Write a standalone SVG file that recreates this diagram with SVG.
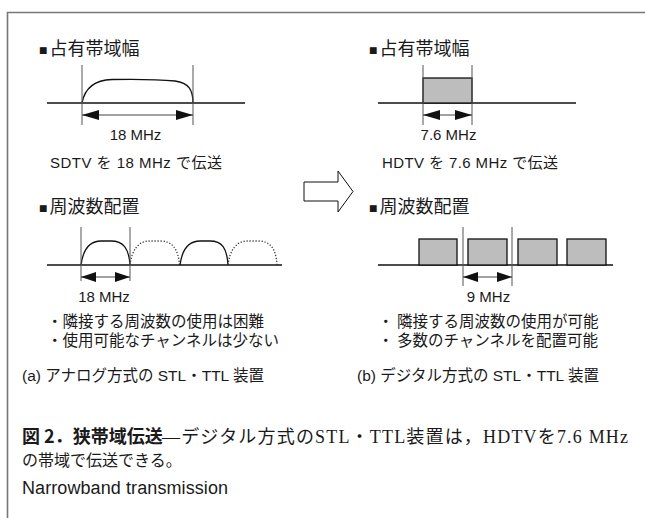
<svg xmlns="http://www.w3.org/2000/svg" width="645" height="518" viewBox="0 0 645 518">
<style>
.sans{font-family:"Liberation Sans","Noto Sans CJK JP",sans-serif;fill:#1a1a1a}
.jp{font-family:"Noto Sans CJK JP",sans-serif;fill:#1a1a1a}
.serif{font-family:"Liberation Serif","Noto Sans CJK JP",serif;fill:#1a1a1a}
.base{stroke:#111;stroke-width:1.3;fill:none}
.tick{stroke:#555;stroke-width:1;fill:none}
.dim{stroke:#444;stroke-width:1;fill:none}
.hump{stroke:#111;stroke-width:1.3;fill:none}
.dot{stroke:#333;stroke-width:1.3;fill:none;stroke-dasharray:1.2 1.8}
.blk{fill:#bdbdbd;stroke:#111;stroke-width:1.3}
.sq{font-size:8.5px}
</style>
<defs>
<marker id="ah" markerUnits="userSpaceOnUse" markerWidth="17" markerHeight="10" refX="17" refY="5" orient="auto-start-reverse">
<path d="M0,0 L17,5 L0,10 Z" fill="#111"/>
</marker>
<marker id="ahs" markerUnits="userSpaceOnUse" markerWidth="15" markerHeight="10" refX="15" refY="5" orient="auto-start-reverse">
<path d="M0,0 L15,5 L0,10 Z" fill="#111"/>
</marker>
</defs>
<rect width="645" height="518" fill="#fff"/>
<path d="M7.5,518 V12.5 H645" fill="none" stroke="#777" stroke-width="1.6"/>

<g id="analog-bandwidth">
<text class="jp" x="39" y="55" font-size="18"><tspan class="sq" dy="-1">■</tspan><tspan dx="2" dy="1">占有帯域幅</tspan></text>
<line class="base" x1="47" y1="103" x2="245" y2="103"/>
<path class="hump" d="M82,103 C85,87 95,80 112,79.5 C140,79 160,79.5 175,81 C189,83 193,90 193,103"/>
<line class="tick" x1="82" y1="65" x2="82" y2="125"/>
<line class="tick" x1="193" y1="65" x2="193" y2="125"/>
<text class="sans" x="135.5" y="140" font-size="15" text-anchor="middle">18 MHz</text>
<text class="sans" x="50" y="168" font-size="15" textLength="172">SDTV を 18 MHz で伝送</text>
</g>

<g id="digital-bandwidth">
<text class="jp" x="369" y="55" font-size="18"><tspan class="sq" dy="-1">■</tspan><tspan dx="2" dy="1">占有帯域幅</tspan></text>
<line class="base" x1="378" y1="103" x2="576" y2="103"/>
<rect class="blk" x="423" y="78" width="49" height="25"/>
<line class="tick" x1="423" y1="65" x2="423" y2="125"/>
<line class="tick" x1="472" y1="65" x2="472" y2="125"/>
<text class="sans" x="448.5" y="140" font-size="15" text-anchor="middle">7.6 MHz</text>
<text class="sans" x="382" y="168" font-size="15" textLength="176">HDTV を 7.6 MHz で伝送</text>
</g>

<g id="transition-arrow">
<path d="M304,182 H338 V171 L353,191.5 L338,212 V201 H304 Z" fill="#fff" stroke="#111" stroke-width="1"/>
</g>

<g id="analog-allocation">
<text class="jp" x="39" y="213" font-size="18"><tspan class="sq" dy="-1">■</tspan><tspan dx="2" dy="1">周波数配置</tspan></text>
<line class="base" x1="47" y1="265" x2="282" y2="265"/>
<path class="hump" d="M81,265 C83,250 89,241 101,241 H111 C123,241 129,248 130,265"/>
<path class="dot" d="M130,265 C132,250 138,241 150,241 H160 C172,241 178,248 179.5,265"/>
<path class="hump" d="M180,265 C182,250 188,241 200,241 H210 C222,241 227,248 228,265"/>
<path class="dot" d="M228,265 C230,250 236,241 248,241 H258 C270,241 276,248 277,265"/>
<line class="tick" x1="81" y1="227" x2="81" y2="281"/>
<line class="tick" x1="130" y1="227" x2="130" y2="281"/>
<text class="sans" x="104" y="302" font-size="15" text-anchor="middle">18 MHz</text>
<text class="jp" x="47" y="327" font-size="15.5">・隣接する周波数の使用は困難</text>
<text class="jp" x="47" y="346" font-size="15.5">・使用可能なチャンネルは少ない</text>
</g>

<g id="digital-allocation">
<text class="jp" x="369" y="213" font-size="18"><tspan class="sq" dy="-1">■</tspan><tspan dx="2" dy="1">周波数配置</tspan></text>
<line class="base" x1="378" y1="265" x2="613" y2="265"/>
<rect class="blk" x="419" y="239" width="38" height="26"/>
<rect class="blk" x="468" y="239" width="39" height="26"/>
<rect class="blk" x="518" y="239" width="39" height="26"/>
<rect class="blk" x="567" y="239" width="39" height="26"/>
<line class="tick" x1="463" y1="227" x2="463" y2="286"/>
<line class="tick" x1="512" y1="227" x2="512" y2="286"/>
<text class="sans" x="488.5" y="302" font-size="15" text-anchor="middle">9 MHz</text>
<text class="jp" x="378" y="327" font-size="15.5">・ 隣接する周波数の使用が可能</text>
<text class="jp" x="378" y="346" font-size="15.5">・ 多数のチャンネルを配置可能</text>
</g>

<g id="connectors">
<line class="dim" x1="82" y1="115" x2="193" y2="115" marker-start="url(#ah)" marker-end="url(#ah)"/>
<line class="dim" x1="423" y1="115" x2="472" y2="115" marker-start="url(#ah)" marker-end="url(#ah)"/>
<line class="dim" x1="81" y1="277" x2="130" y2="277" marker-start="url(#ahs)" marker-end="url(#ahs)"/>
<line class="dim" x1="463" y1="277" x2="512" y2="277" marker-start="url(#ahs)" marker-end="url(#ahs)"/>
</g>

<g id="captions">
<text class="sans" x="22" y="381" font-size="15.5">(a) アナログ方式の STL・TTL 装置</text>
<text class="sans" x="357" y="381" font-size="15.5">(b) デジタル方式の STL・TTL 装置</text>
<text class="jp" x="22" y="443" font-size="18" font-weight="bold">図 2．狭帯域伝送</text>
<text class="serif" x="162" y="443" font-size="18" textLength="466">―デジタル方式のSTL・TTL装置は，HDTVを7.6 MHz</text>
<text class="serif" x="22" y="466" font-size="16">の帯域で伝送できる。</text>
<text class="sans" x="22" y="494" font-size="18" textLength="206">Narrowband transmission</text>
</g>
</svg>
